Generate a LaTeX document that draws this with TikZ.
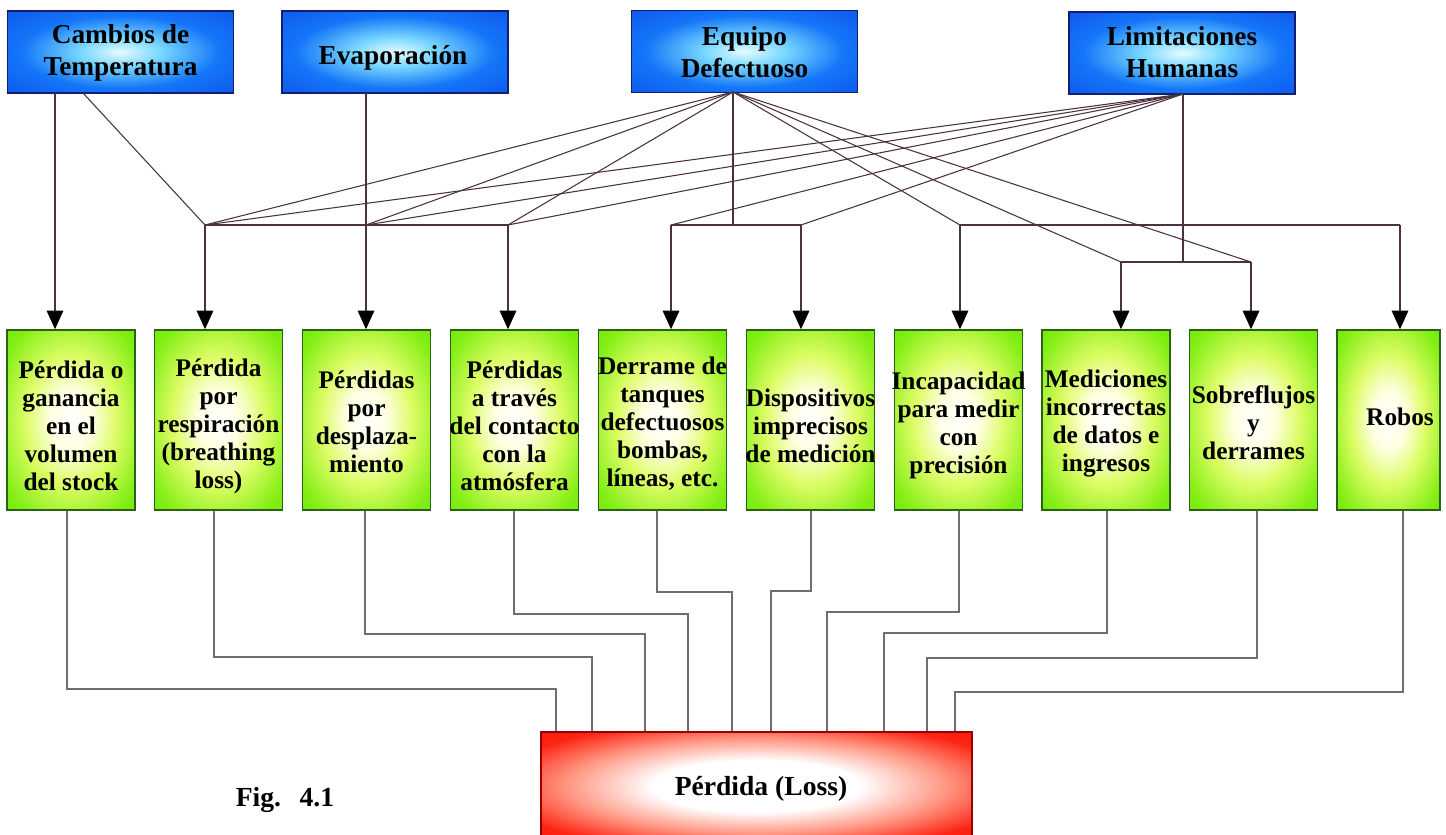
\documentclass[tikz,border=0pt]{standalone}
\usepackage{fontspec}
\setmainfont{Liberation Serif}
\usetikzlibrary{arrows.meta}

% palette
\definecolor{blueE}{RGB}{10,58,225}
\definecolor{blueA}{RGB}{20,118,248}
\definecolor{blueB}{RGB}{120,215,255}
\definecolor{blueC}{RGB}{230,252,255}
\definecolor{blueLine}{RGB}{20,30,110}
\definecolor{greenE}{RGB}{80,215,0}
\definecolor{greenA}{RGB}{130,238,20}
\definecolor{greenB}{RGB}{220,252,100}
\definecolor{greenC}{RGB}{255,255,228}
\definecolor{greenLine}{RGB}{40,100,20}
\definecolor{redE}{RGB}{238,10,2}
\definecolor{redA}{RGB}{252,36,18}
\definecolor{redB}{RGB}{255,150,130}
\definecolor{redLine}{RGB}{150,0,0}
\definecolor{linkc}{RGB}{75,50,65}
\definecolor{lowc}{RGB}{112,110,116}

\pgfdeclareradialshading{blueglow}{\pgfpoint{0bp}{0bp}}{%
  color(0bp)=(blueC); color(9bp)=(blueB); color(22bp)=(blueA); color(50bp)=(blueE)}
\pgfdeclareradialshading{greenglow}{\pgfpoint{0bp}{0bp}}{%
  color(0bp)=(white); color(8bp)=(greenC); color(18bp)=(greenB); color(31bp)=(greenA); color(50bp)=(greenE)}
\pgfdeclareradialshading{redglow}{\pgfpoint{0bp}{0bp}}{%
  color(0bp)=(white); color(12bp)=(white); color(22bp)=(redB); color(31bp)=(redA); color(50bp)=(redE)}

\newcommand{\txtBlue}{\fontsize{20.5}{24}\selectfont\bfseries}
\newcommand{\txtGreen}{\fontsize{19}{21}\selectfont\bfseries}
\newcommand{\txtBig}{\fontsize{20.7}{24}\selectfont\bfseries}

\tikzset{
  causebox/.style={shade, shading=blueglow, draw=blueLine, line width=1.1pt,
    minimum width=169.5pt, minimum height=61.5pt, inner sep=0pt},
  effectbox/.style={shade, shading=greenglow, draw=greenLine, line width=1.1pt,
    minimum width=96pt, minimum height=135pt, inner sep=0pt},
  lossbox/.style={shade, shading=redglow, draw=redLine, line width=1pt,
    minimum width=323.25pt, minimum height=81pt, inner sep=0pt},
  bluetext/.style={font=\txtBlue, align=center, inner sep=0pt},
  greentext/.style={font=\txtGreen, align=center, inner sep=0pt},
  link/.style={draw=linkc, line width=0.8pt},
  arr/.style={link, -{Triangle[length=14pt,width=12.5pt,color=black]}},
  low/.style={draw=lowc, line width=0.8pt},
}

\begin{document}
\begin{tikzpicture}[x=0.75pt,y=-0.75pt]
\useasboundingbox (0,0) rectangle (1446,835);

% ---- causes ----
\node[causebox] (c1) at (120.5,52) {};
\node[causebox] (c2) at (395,52) {};
\node[causebox] (c3) at (744.5,51.5) {};
\node[causebox] (c4) at (1182,53) {};
\node[bluetext] (tc1) at (120.5,53) {Cambios de\\Temperatura};
\node[bluetext] (tc2) at (393,58) {Evaporación};
\node[bluetext] (tc3) at (744.5,52.5) {Equipo\\Defectuoso};
\node[bluetext] (tc4) at (1182,52) {Limitaciones\\Humanas};

% ---- effects ----
\node[effectbox] (b1) at (71,420) {};
\node[effectbox] (b2) at (218.5,420) {};
\node[effectbox] (b3) at (366.5,420) {};
\node[effectbox] (b4) at (514.5,420) {};
\node[effectbox] (b5) at (662.5,420) {};
\node[effectbox] (b6) at (810.5,420) {};
\node[effectbox] (b7) at (958.5,420) {};
\node[effectbox] (b8) at (1106,420) {};
\node[effectbox] (b9) at (1253.5,420) {};
\node[effectbox, minimum width=77.25pt] (b10) at (1388.5,420) {};

\node[greentext] (t1) at (71,426) {Pérdida o\\ganancia\\en el\\volumen\\del stock};
\node[greentext] (t2) at (218.5,426) {Pérdida\\por\\respiración\\(breathing\\loss)};
\node[greentext] (t3) at (366.5,422) {Pérdidas\\por\\desplaza-\\miento};
\node[greentext] (t4) at (514.5,426) {Pérdidas\\a través\\del contacto\\con la\\atmósfera};
\node[greentext] (t5) at (662.5,424) {Derrame de\\tanques\\defectuosos\\bombas,\\líneas, etc.};
\node[greentext] (t6) at (810.5,426) {Dispositivos\\imprecisos\\de medición};
\node[greentext] (t7) at (958.5,425) {Incapacidad\\para medir\\con\\precisión};
\node[greentext] (t8) at (1106,424) {Mediciones\\incorrectas\\de datos e\\ingresos};
\node[greentext] (t9) at (1253.5,423) {Sobreflujos\\y\\derrames};
\node[greentext] (t10) at (1400,417) {Robos};

% ---- result ----
\node[lossbox] (loss) at (756.5,786) {};
\node[font=\txtBig, inner sep=0pt] (tl) at (761,789) {Pérdida (Loss)};
\node[font=\txtBig, inner sep=0pt] (fig) at (285,800) {Fig.\hspace{14pt}4.1};

% ---- attachment points ----
\coordinate (ct1) at (55,93);
\coordinate (ct2) at (83,93);
\coordinate (ev) at (366,93);
\coordinate (eq) at (733,92);
\coordinate (li) at (1183,94);
\coordinate (j2) at (205,225);
\coordinate (j3) at (366,225);
\coordinate (j4) at (508,225);
\coordinate (j5) at (671,225);
\coordinate (j6) at (801,225);
\coordinate (j7) at (960,225);
\coordinate (j10) at (1400,225);
\coordinate (j8) at (1121,262);
\coordinate (j9) at (1251,262);
\coordinate (jl) at (1183,262);

% ---- causes to effects ----
\draw[arr] (ct1) -- (ct1 |- b1.north);
\draw[link] (ct2) -- (j2);
\draw[link] (j2) -- (j4);
\draw[arr] (j2) -- (j2 |- b2.north);
\draw[arr] (ev) -- (ev |- b3.north);
\draw[arr] (j4) -- (j4 |- b4.north);
\draw[link] (j5) -- (j6);
\draw[link] (eq) -- (eq |- j5);
\draw[arr] (j5) -- (j5 |- b5.north);
\draw[arr] (j6) -- (j6 |- b6.north);
\draw[link] (j7) -- (j10);
\draw[arr] (j7) -- (j7 |- b7.north);
\draw[arr] (j10) -- (j10 |- b10.north);
\draw[link] (li) -- (jl);
\draw[link] (j8) -- (j9);
\draw[arr] (j8) -- (j8 |- b8.north);
\draw[arr] (j9) -- (j9 |- b9.north);
\foreach \j in {j2,j3,j4,j7,j8,j9} \draw[link] (eq) -- (\j);
\foreach \j in {j2,j3,j4,j5,j6} \draw[link] (li) -- (\j);

% ---- effects to loss ----
\foreach \n/\ox/\ky/\kx in {1/67/689/556, 2/214/657/592, 3/365/634/645, 4/514/614/688,
    5/657/592/732, 6/811/591/771, 7/959/612/827, 8/1107/633/884, 9/1257/658/927, 10/1403/692/955}{
  \coordinate (o\n) at (\ox,510);
  \coordinate (k\n) at (\kx,\ky);
  \draw[low] (o\n |- b\n.south) |- (k\n) -- (k\n |- loss.north);
}
\end{tikzpicture}
\end{document}
